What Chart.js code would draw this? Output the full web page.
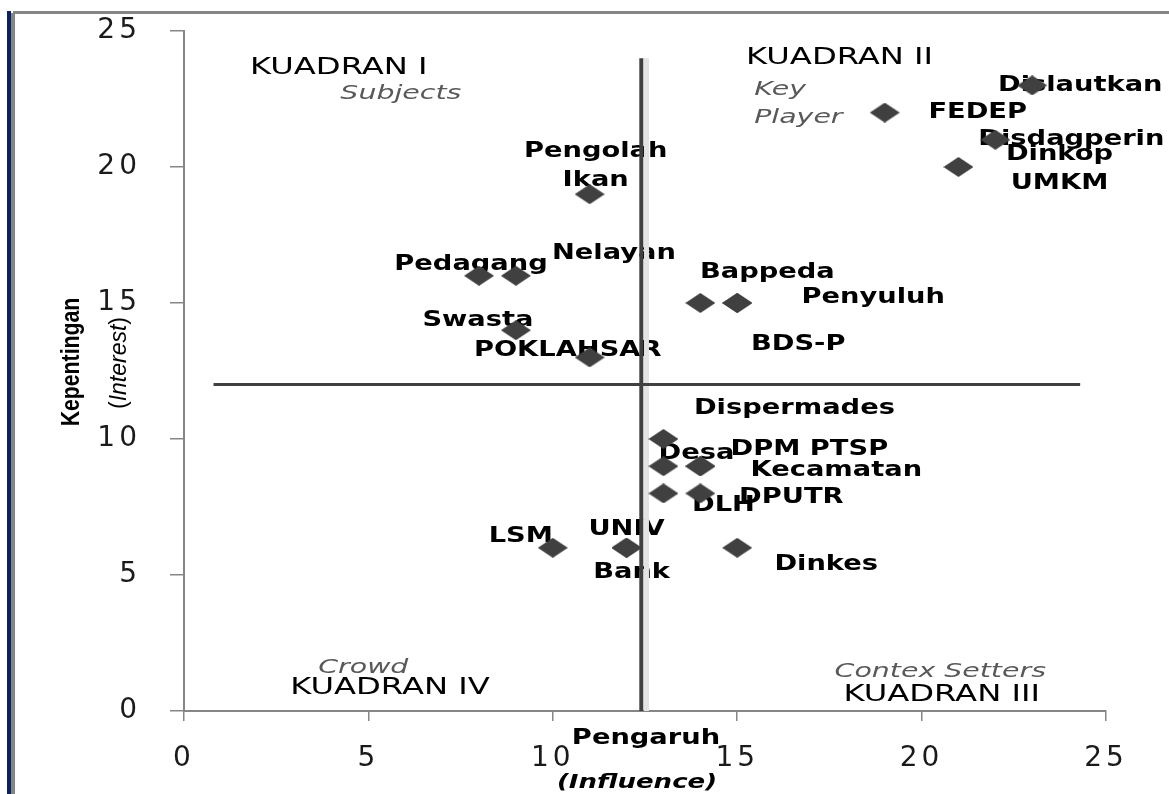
<!DOCTYPE html>
<html>
<head>
<meta charset="utf-8">
<script src="https://cdn.jsdelivr.net/npm/chart.js@4.4.1/dist/chart.umd.min.js"></script>
<style>
  html, body { margin: 0; padding: 0; background: #fff; }
</style>
</head>
<body>
<canvas id="chart" width="1169" height="794"></canvas>
<script>
// stakeholders: influence (x) vs interest (y)
const names = ['Dislautkan', 'FEDEP', 'Disdagperin', 'Dinkop\nUMKM', 'Pengolah\nIkan',
  'Pedagang', 'Nelayan', 'Bappeda', 'Penyuluh', 'BDS-P', 'Swasta', 'POKLAHSAR',
  'Dispermades', 'Desa', 'DPM PTSP', 'Kecamatan', 'DLH', 'DPUTR', 'LSM', 'UNIV', 'Bank', 'Dinkes'];
const influence = [23, 19, 22, 21, 11, 8, 9, 14, 15, 15, 9, 11, 13, 13, 14, 14, 13, 14, 10, 12, 12, 15];
const interest  = [23, 22, 21, 20, 19, 16, 16, 15, 15, 15, 14, 13, 10, 9, 9, 9, 8, 8, 6, 6, 6, 6];

// quadrant dividers
const dividerX = 12.4;
const dividerY = 12;

// where each name sits relative to its marker (px)
const labelOffsets = [[48, 0], [93, 0], [76, 0], [101, 2], [6, -28],
  [-8, -11], [98, -22], [67, -30], [136, -5], [61, 42], [-38, -10], [-22, -7],
  [131, -30], [33, -13], [109, -17], [136, 4], [60, 12], [91, 4], [-32, -11], [0, -18], [5, 25], [89, 17]];

const diamond = document.createElement('canvas');
diamond.width = 30;
diamond.height = 20;
(function () {
  const c = diamond.getContext('2d');
  c.fillStyle = '#404040';
  c.beginPath();
  c.moveTo(0, 10); c.lineTo(15, 0); c.lineTo(30, 10); c.lineTo(15, 20);
  c.closePath();
  c.fill();
})();

function drawText(ctx, text, x, y, font, color, align, stretch) {
  ctx.save();
  ctx.translate(x, y);
  ctx.scale(stretch, 1);
  ctx.font = font;
  ctx.fillStyle = color;
  ctx.textAlign = align;
  ctx.textBaseline = 'middle';
  ctx.fillText(text, 0, 0);
  ctx.restore();
}

const LABEL_FONT = 'bold 21px "DejaVu Sans"';
const QUAD_FONT = '23px "DejaVu Sans"';
const NOTE_FONT = 'oblique 20px "DejaVu Sans"';

const decorations = {
  id: 'decorations',
  beforeDraw(chart) {
    const ctx = chart.ctx;
    ctx.save();
    ctx.fillStyle = '#0c2161';
    ctx.fillRect(7, 11, 4, 783);
    ctx.fillStyle = '#858585';
    ctx.fillRect(11, 13, 4, 781);
    ctx.fillRect(13, 11, 1156, 3);
    ctx.restore();
    ctx.letterSpacing = '4px';
  },
  beforeDatasetsDraw(chart) {
    const ctx = chart.ctx;
    ctx.letterSpacing = '0px';
    const xs = chart.scales.x, ys = chart.scales.y;
    const px = v => xs.getPixelForValue(v);
    const py = v => ys.getPixelForValue(v);

    // quadrant names
    drawText(ctx, 'KUADRAN I', px(1.79), py(23.64), QUAD_FONT, '#000', 'left', 1.4);
    drawText(ctx, 'Subjects', px(4.24), py(22.68), NOTE_FONT, '#595959', 'left', 1.42);
    drawText(ctx, 'KUADRAN II', px(15.24), py(24.0), QUAD_FONT, '#000', 'left', 1.4);
    drawText(ctx, 'Key', px(15.46), py(22.83), NOTE_FONT, '#595959', 'left', 1.42);
    drawText(ctx, 'Player', px(15.46), py(21.8), NOTE_FONT, '#595959', 'left', 1.42);
    drawText(ctx, 'Crowd', px(3.64), py(1.58), NOTE_FONT, '#595959', 'left', 1.42);
    drawText(ctx, 'KUADRAN IV', px(2.88), py(0.85), QUAD_FONT, '#000', 'left', 1.4);
    drawText(ctx, 'Contex Setters', px(17.64), py(1.43), NOTE_FONT, '#595959', 'left', 1.42);
    drawText(ctx, 'KUADRAN III', px(17.88), py(0.59), QUAD_FONT, '#000', 'left', 1.4);

    // stakeholder names
    names.forEach((name, i) => {
      const lines = name.split('\n');
      const lh = 29;
      const cx = px(influence[i]) + labelOffsets[i][0];
      const cy = py(interest[i]) + labelOffsets[i][1];
      lines.forEach((t, k) => {
        const y = cy + (k - (lines.length - 1) / 2) * lh;
        drawText(ctx, t, cx, y, LABEL_FONT, '#000', 'center', 1.3);
      });
    });

    // x axis title
    drawText(ctx, 'Pengaruh', 646, 739, LABEL_FONT, '#000', 'center', 1.3);
    drawText(ctx, '(Influence)', 637, 783, 'bold oblique 20px "DejaVu Sans"', '#000', 'center', 1.3);

    // y axis title
    ctx.save();
    ctx.translate(72, 362);
    ctx.rotate(-Math.PI / 2);
    drawText(ctx, 'Kepentingan', 0, 0, 'bold 25px "Liberation Sans", sans-serif', '#000', 'center', 0.85);
    ctx.restore();

    ctx.save();
    ctx.translate(120, 363);
    ctx.rotate(-Math.PI / 2);
    ctx.textBaseline = 'middle';
    ctx.fillStyle = '#000';
    const reg = '23px "Liberation Sans", sans-serif';
    const ita = 'italic 23px "Liberation Sans", sans-serif';
    ctx.font = reg; const wo = ctx.measureText('(').width;
    ctx.font = ita; const wi = ctx.measureText('Interest').width;
    ctx.font = reg; const wc = ctx.measureText(')').width;
    let x0 = -(wo + wi + wc) / 2;
    ctx.textAlign = 'left';
    ctx.font = reg; ctx.fillText('(', x0, 0); x0 += wo;
    ctx.font = ita; ctx.fillText('Interest', x0, 0); x0 += wi;
    ctx.font = reg; ctx.fillText(')', x0, 0);
    ctx.restore();
  }
};

const ctx = document.getElementById('chart');
const chart = new Chart(ctx, {
  type: 'scatter',
  data: {
    datasets: [{
      label: 'band',
      data: [{x: dividerX + 0.14, y: 24}, {x: dividerX + 0.14, y: 0}],
      showLine: true,
      borderColor: '#e3e3e3',
      borderWidth: 5,
      pointRadius: 0,
      order: 3
    }, {
      label: 'vertical',
      data: [{x: dividerX, y: 24}, {x: dividerX, y: 0}],
      showLine: true,
      borderColor: '#404040',
      borderWidth: 4,
      pointRadius: 0,
      order: 2
    }, {
      label: 'horizontal',
      data: [{x: 0.8, y: dividerY}, {x: 24.3, y: dividerY}],
      showLine: true,
      borderColor: '#404040',
      borderWidth: 3,
      pointRadius: 0,
      order: 2
    }, {
      label: 'Stakeholder',
      data: influence.map((x, i) => ({x: x, y: interest[i]})),
      pointStyle: diamond,
      pointRadius: 10,
      order: 0
    }]
  },
  options: {
    responsive: false,
    animation: false,
    devicePixelRatio: 1,
    layout: { padding: { top: 31, right: 63, left: 0, bottom: 0 } },
    plugins: {
      legend: { display: false },
      tooltip: { enabled: false }
    },
    scales: {
      x: {
        type: 'linear',
        min: 0,
        max: 25,
        ticks: { stepSize: 5, color: '#1a1a1a', font: { family: 'DejaVu Sans', size: 28 }, padding: 21, maxRotation: 0 },
        grid: { drawOnChartArea: false, color: '#868686', lineWidth: 1.5, tickLength: 10 },
        border: { color: '#868686', width: 2 },
        afterFit: s => { s.height = 83; s.paddingLeft = 0; s.paddingRight = 0; }
      },
      y: {
        type: 'linear',
        min: 0,
        max: 25,
        ticks: { stepSize: 5, color: '#1a1a1a', font: { family: 'DejaVu Sans', size: 28 }, padding: 29 },
        grid: { drawOnChartArea: false, color: '#868686', lineWidth: 1.5, tickLength: 14 },
        border: { color: '#868686', width: 2 },
        afterFit: s => { s.width = 184; s.paddingTop = 0; s.paddingBottom = 0; }
      }
    }
  },
  plugins: [decorations]
});
</script>
</body>
</html>
